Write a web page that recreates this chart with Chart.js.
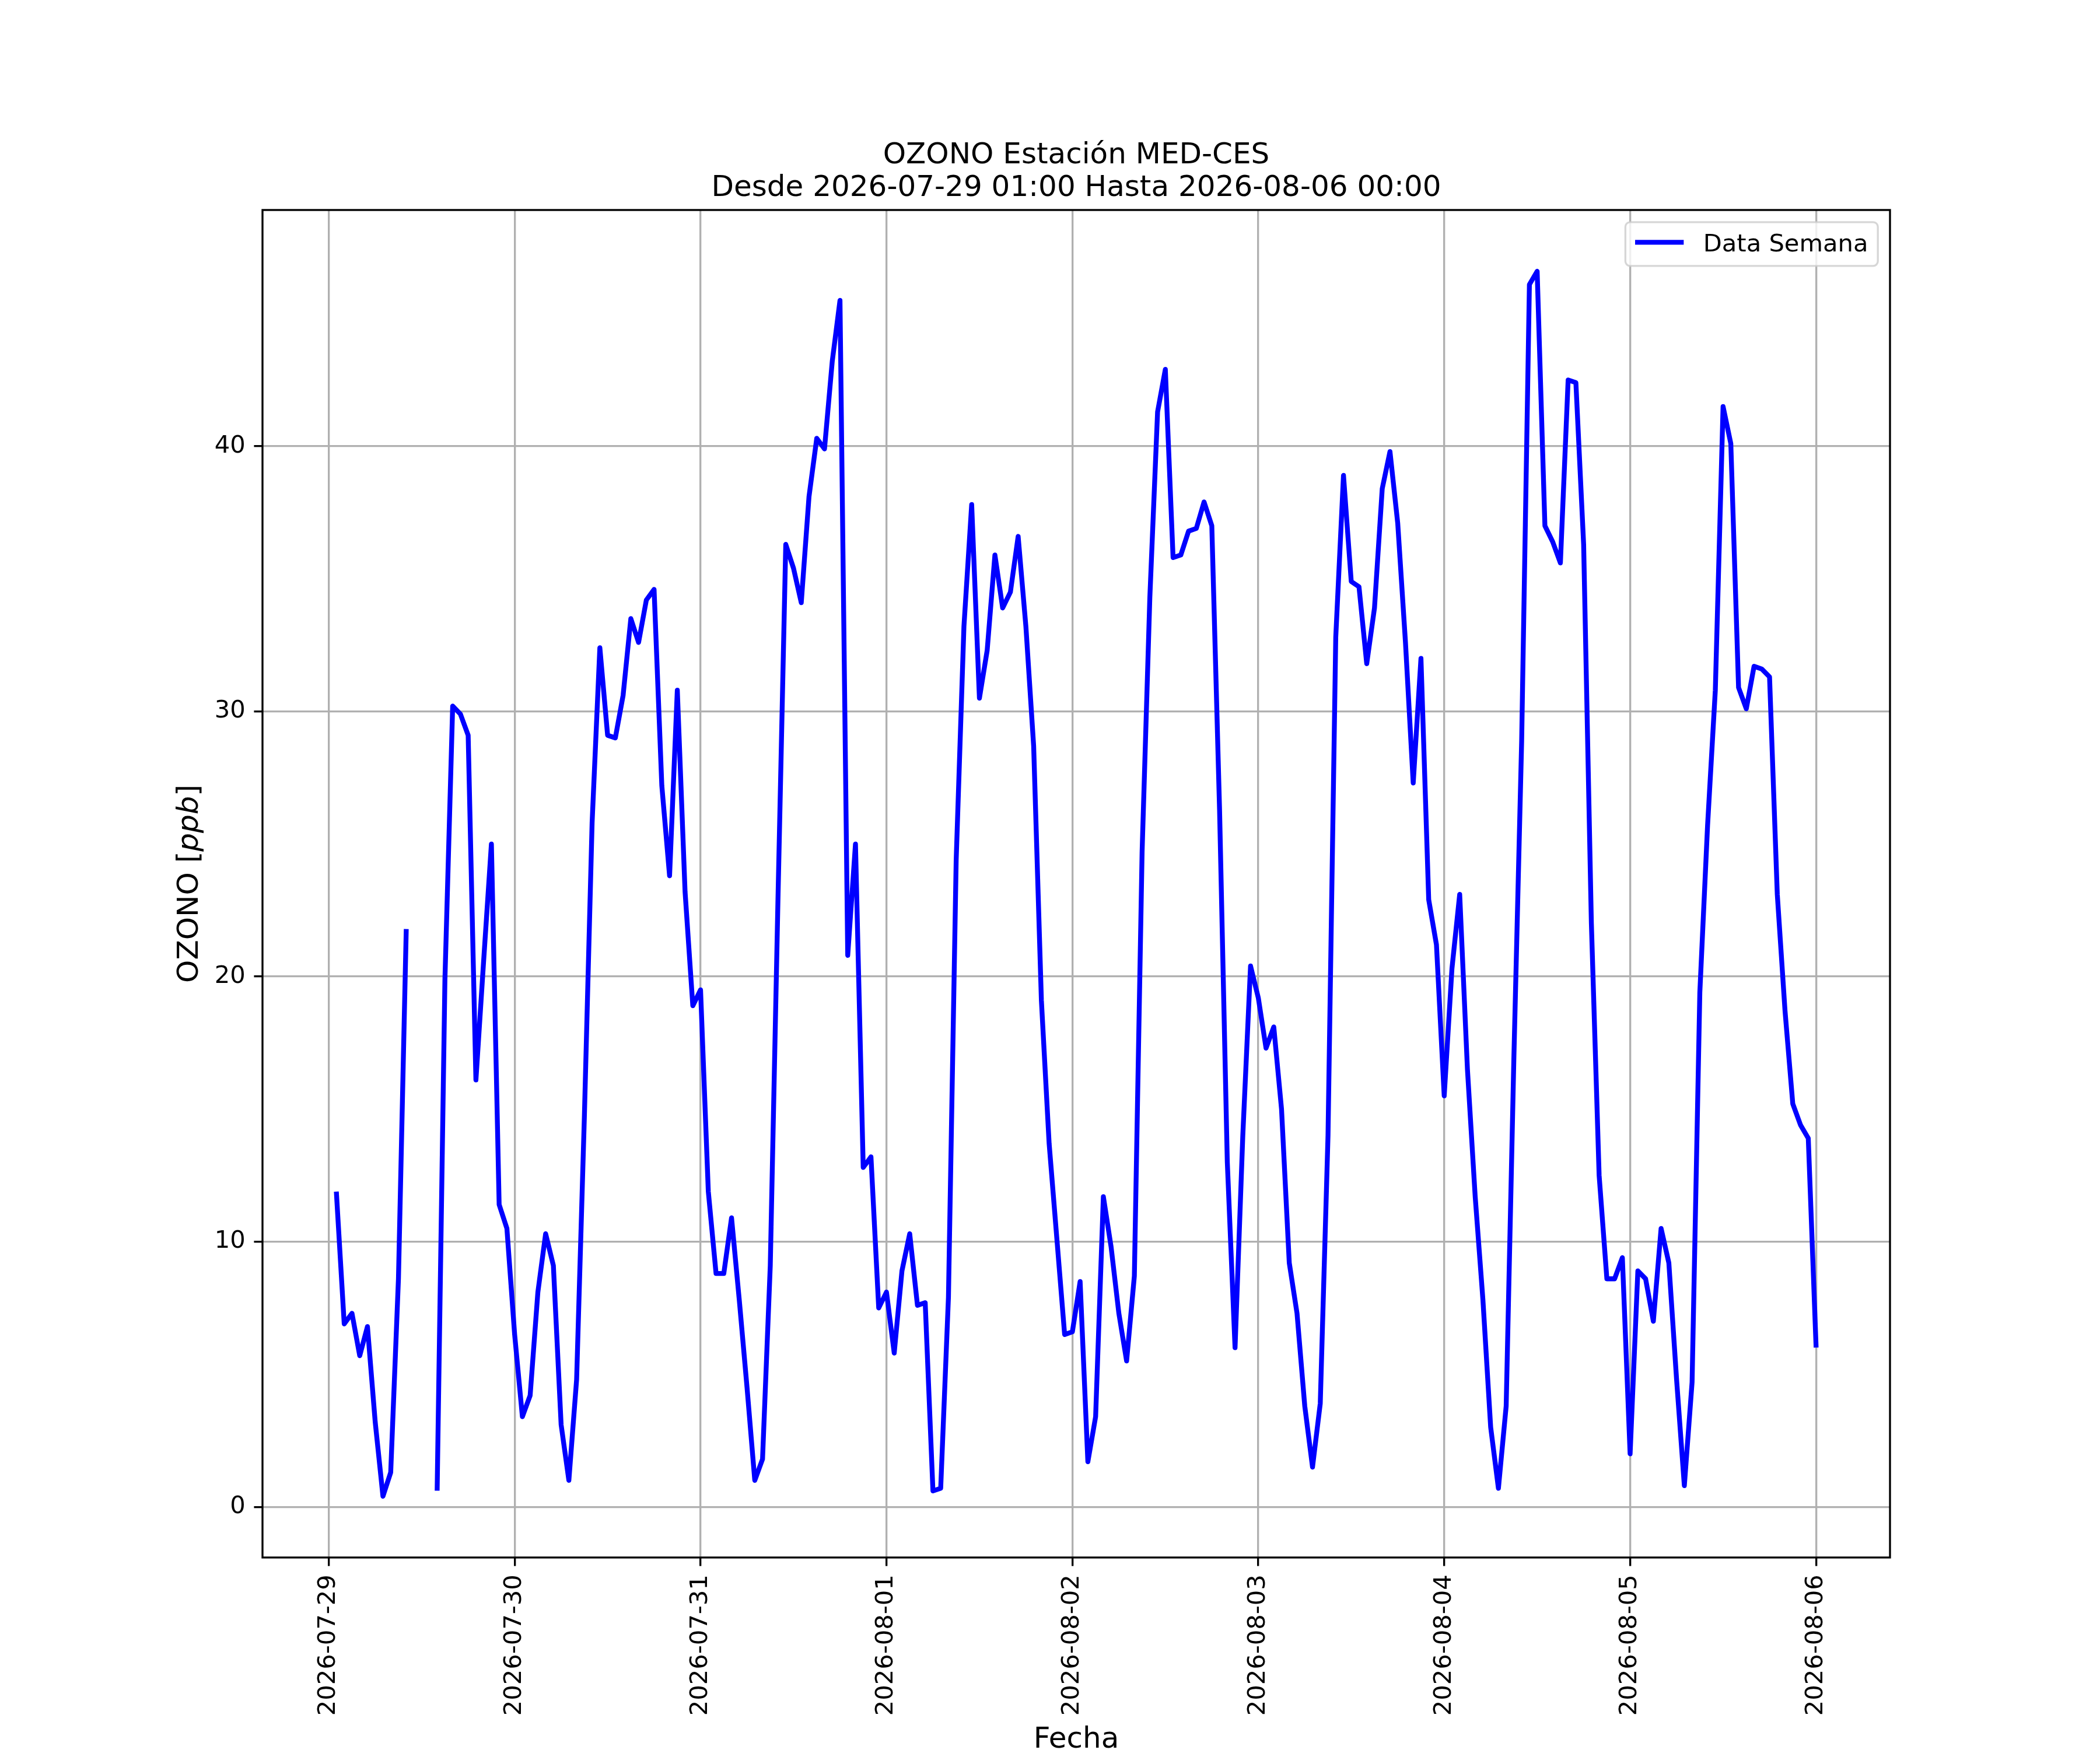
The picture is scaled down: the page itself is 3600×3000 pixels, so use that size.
<!DOCTYPE html>
<html>
<head>
<meta charset="utf-8">
<title>OZONO Estación MED-CES</title>
<script src="https://cdn.jsdelivr.net/npm/chart.js@4.4.1/dist/chart.umd.min.js"></script>
<style>
  html, body { margin: 0; padding: 0; background: #ffffff; }
  canvas { display: block; }
</style>
</head>
<body>
<canvas id="ozoneChart" width="3600" height="3000"></canvas>
<script>
// chart texts
const titleLines = ['OZONO Estación MED-CES', 'Desde 2026-07-29 01:00 Hasta 2026-08-06 00:00'];
const xTitle = 'Fecha';
const seriesLabel = 'Data Semana';

// x ticks: one per day, at 00:00
const dayLabels = ['2026-07-29', '2026-07-30', '2026-07-31', '2026-08-01', '2026-08-02',
                   '2026-08-03', '2026-08-04', '2026-08-05', '2026-08-06'];
const yTickValues = [0, 10, 20, 30, 40];

// hourly ozone [ppb], first reading at 2026-07-29 01:00 (null = no data)
const firstHour = 1;
const ozone = [
  11.8, 6.9, 7.3, 5.7, 6.8, 3.2, 0.4, 1.3, 8.6, 21.7, null, null, null, 0.7, 19.9, 30.2, 29.9, 29.1, 16.1, 20.6, 25.0, 11.4, 10.5, 6.5,
  3.4, 4.2, 8.1, 10.3, 9.1, 3.1, 1.0, 4.8, 14.7, 25.8, 32.4, 29.1, 29.0, 30.6, 33.5, 32.6, 34.2, 34.6, 27.2, 23.8, 30.8, 23.2, 18.9, 19.5,
  11.9, 8.8, 8.8, 10.9, 7.8, 4.5, 1.0, 1.8, 9.1, 23.0, 36.3, 35.4, 34.1, 38.1, 40.3, 39.9, 43.2, 45.5, 20.8, 25.0, 12.8, 13.2, 7.5, 8.1,
  5.8, 8.9, 10.3, 7.6, 7.7, 0.6, 0.7, 7.9, 24.4, 33.2, 37.8, 30.5, 32.3, 35.9, 33.9, 34.5, 36.6, 33.2, 28.7, 19.1, 13.7, 10.1, 6.5, 6.6,
  8.5, 1.7, 3.4, 11.7, 9.8, 7.3, 5.5, 8.7, 24.7, 34.3, 41.3, 42.9, 35.8, 35.9, 36.8, 36.9, 37.9, 37.0, 26.3, 13.0, 6.0, 14.0, 20.4, 19.2,
  17.3, 18.1, 15.0, 9.2, 7.3, 3.8, 1.5, 3.9, 14.0, 32.8, 38.9, 34.9, 34.7, 31.8, 33.9, 38.4, 39.8, 37.1, 32.6, 27.3, 32.0, 22.9, 21.2, 15.5,
  20.3, 23.1, 16.5, 11.7, 7.8, 3.0, 0.7, 3.8, 17.0, 28.9, 46.1, 46.6, 37.0, 36.4, 35.6, 42.5, 42.4, 36.3, 22.0, 12.5, 8.6, 8.6, 9.4, 2.0,
  8.9, 8.6, 7.0, 10.5, 9.2, 4.8, 0.8, 4.7, 19.4, 25.7, 30.8, 41.5, 40.1, 30.9, 30.1, 31.7, 31.6, 31.3, 23.1, 18.7, 15.2, 14.4, 13.9, 6.1
];

const PT = 300 / 72;            // pixels per point (300 dpi figure)
const FONT = '"DejaVu Sans"';
const TICK_SIZE = 10 * PT;
const LABEL_SIZE = 12 * PT;
const LINE_W = 2 * PT;

// x in days since 2026-07-29 00:00
const points = ozone.map((v, i) => ({ x: (firstHour + i) / 24, y: v }));

// auto limits with 5% margins
const xs = points.map(p => p.x);
const xLo = Math.min(...xs), xHi = Math.max(...xs);
const xPad = 0.05 * (xHi - xLo);
const valid = ozone.filter(v => v !== null);
const yLo = Math.min(...valid), yHi = Math.max(...valid);
const yPad = 0.05 * (yHi - yLo);

const decorations = {
  id: 'decorations',
  afterDraw(chart) {
    const { ctx, chartArea: a } = chart;
    const cx = (a.left + a.right) / 2;
    ctx.save();

    // frame
    ctx.strokeStyle = '#000000';
    ctx.lineWidth = 0.8 * PT;
    ctx.strokeRect(a.left, a.top, a.right - a.left, a.bottom - a.top);

    // title
    ctx.fillStyle = '#000000';
    ctx.textAlign = 'center';
    ctx.textBaseline = 'alphabetic';
    ctx.font = `${LABEL_SIZE}px ${FONT}`;
    ctx.fillText(titleLines[0], cx, a.top - 80);
    ctx.fillText(titleLines[1], cx, a.top - 24);

    // x axis title
    ctx.fillText(xTitle, cx, 2996);

    // y axis title with italic unit
    const parts = [
      ['OZONO [', `${LABEL_SIZE}px ${FONT}`],
      ['ppb', `oblique ${LABEL_SIZE}px ${FONT}`],
      [']', `${LABEL_SIZE}px ${FONT}`]
    ];
    let total = 0;
    parts.forEach(p => { ctx.font = p[1]; total += ctx.measureText(p[0]).width; });
    ctx.translate(339, (a.top + a.bottom) / 2);
    ctx.rotate(-Math.PI / 2);
    ctx.textAlign = 'left';
    let px = -total / 2;
    parts.forEach(p => { ctx.font = p[1]; ctx.fillText(p[0], px, 0); px += ctx.measureText(p[0]).width; });
    ctx.setTransform(1, 0, 0, 1, 0, 0);

    // legend
    const fs = TICK_SIZE;
    ctx.font = `${fs}px ${FONT}`;
    const tw = ctx.measureText(seriesLabel).width;
    const bw = 0.4 * fs + 2 * fs + 0.8 * fs + tw + 0.4 * fs;
    const bh = 1.8 * fs;
    const bx = a.right - 0.5 * fs - bw;
    const by = a.top + 0.5 * fs;
    ctx.beginPath();
    ctx.roundRect(bx, by, bw, bh, 8);
    ctx.fillStyle = 'rgba(255,255,255,0.8)';
    ctx.fill();
    ctx.strokeStyle = 'rgba(204,204,204,0.8)';
    ctx.lineWidth = 3.3;
    ctx.stroke();
    const ly = by + bh / 2 - 3;
    ctx.beginPath();
    ctx.moveTo(bx + 0.4 * fs, ly);
    ctx.lineTo(bx + 2.4 * fs, ly);
    ctx.strokeStyle = '#0000ff';
    ctx.lineWidth = LINE_W;
    ctx.lineCap = 'butt';
    ctx.stroke();
    ctx.fillStyle = '#000000';
    ctx.textAlign = 'left';
    ctx.fillText(seriesLabel, bx + 3.2 * fs, by + bh / 2 + 13);

    ctx.restore();
  }
};

const gridStyle = {
  color: '#b0b0b0',
  lineWidth: 0.8 * PT,
  drawTicks: true,
  tickLength: 3.5 * PT,
  tickColor: '#000000',
  tickWidth: 0.8 * PT
};

new Chart(document.getElementById('ozoneChart'), {
  type: 'line',
  data: {
    datasets: [{
      label: seriesLabel,
      data: points,
      borderColor: '#0000ff',
      borderWidth: LINE_W,
      borderCapStyle: 'square',
      borderJoinStyle: 'round',
      pointRadius: 0,
      tension: 0,
      fill: false,
      spanGaps: false
    }]
  },
  options: {
    responsive: false,
    devicePixelRatio: 1,
    animation: false,
    layout: { padding: { left: 0, top: 360, right: 360, bottom: 0 } },
    plugins: {
      legend: { display: false },
      title: { display: false },
      tooltip: { enabled: false }
    },
    scales: {
      x: {
        type: 'linear',
        min: xLo - xPad,
        max: xHi + xPad,
        afterBuildTicks: s => { s.ticks = dayLabels.map((_, i) => ({ value: i })); },
        afterFit: s => { s.height = 330; },
        grid: gridStyle,
        border: { display: false },
        ticks: {
          autoSkip: false,
          minRotation: 90,
          maxRotation: 90,
          padding: 3.5 * PT,
          color: '#000000',
          font: { family: 'DejaVu Sans', size: TICK_SIZE },
          callback: v => dayLabels[v]
        }
      },
      y: {
        type: 'linear',
        min: yLo - yPad,
        max: yHi + yPad,
        afterBuildTicks: s => { s.ticks = yTickValues.map(v => ({ value: v })); },
        afterFit: s => { s.width = 450; },
        grid: gridStyle,
        border: { display: false },
        ticks: {
          padding: 3.5 * PT,
          color: '#000000',
          font: { family: 'DejaVu Sans', size: TICK_SIZE },
          callback: v => String(v)
        }
      }
    }
  },
  plugins: [decorations]
});
</script>
</body>
</html>
